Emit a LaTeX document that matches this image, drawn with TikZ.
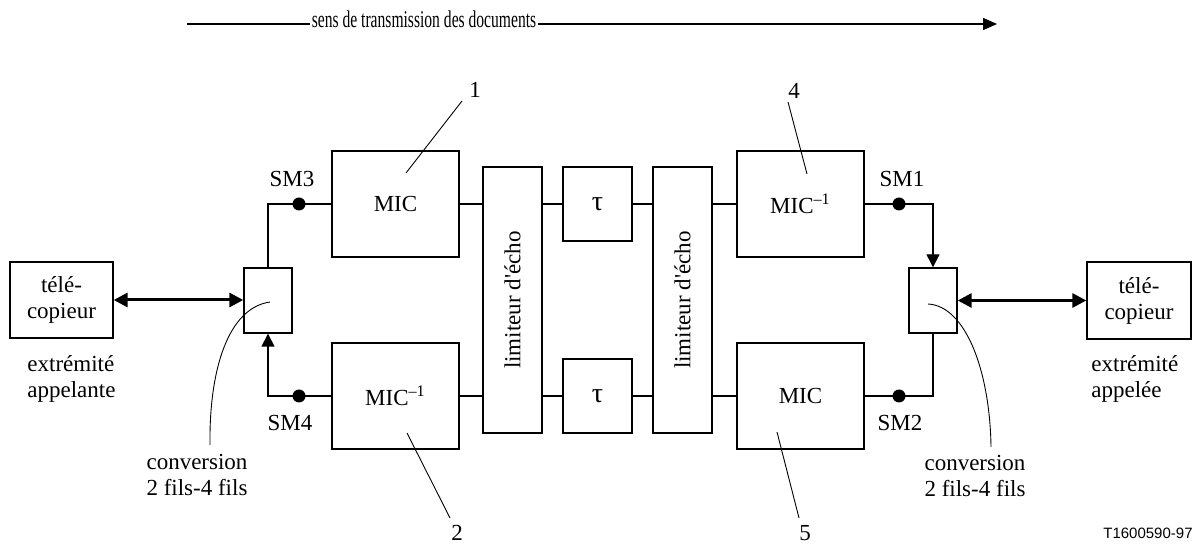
\documentclass[tikz,border=0pt]{standalone}
\usepackage{graphicx}
\usepackage{fontspec}
\setmainfont{Liberation Serif}
\newfontfamily\arialfont{Liberation Sans}
\usetikzlibrary{arrows.meta}
\begin{document}
\begin{tikzpicture}[x=0.5pt,y=-0.5pt,
  every node/.style={font=\fontsize{11.5pt}{13pt}\selectfont, inner sep=1pt},
  blk/.style={draw, line width=0.7pt, inner sep=0pt, align=center},
  wire/.style={line width=0.7pt},
  lead/.style={line width=0.45pt},
  dbl/.style={line width=1.5pt, {Triangle[length=7pt,width=7pt]}-{Triangle[length=7pt,width=7pt]}},
  sig/.style={wire, -{Triangle[length=6.5pt,width=6.5pt]}},
  dot/.style={circle, fill, inner sep=0pt, minimum size=6.5pt},
  txt/.style={align=center},
  taufont/.style={font=\fontsize{14pt}{16pt}\selectfont},
]
\useasboundingbox (0,0) rectangle (1198,544);

% title
\coordinate (ts) at (187,24);
\coordinate (te) at (997,24);
\node[anchor=base, font=\fontsize{12pt}{14pt}\selectfont, inner sep=0.5pt] (title) at (424,28) {\scalebox{0.65}[1]{sens de transmission des documents}};
\draw[line width=0.8pt] (ts) -- (title.west |- ts);
\draw[line width=0.8pt, -{Triangle[length=7pt,width=6pt]}] (title.east |- ts) -- (te);

% blocks
\node[blk, minimum width=51.5pt, minimum height=38pt] (faxL) at (61.5,300) {télé-\\copieur};
\node[blk, minimum width=24pt, minimum height=32.5pt] (convL) at (268,300.5) {};
\node[blk, minimum width=63.5pt, minimum height=53pt] (micT1) at (395.5,204) {MIC};
\node[blk, minimum width=63.5pt, minimum height=53pt] (micB1) at (395.5,396) {MIC\textsuperscript{–1}};
\node[blk, minimum width=29.5pt, minimum height=133pt] (lim1) at (512.5,300) {\rotatebox{90}{limiteur d\textquotesingle écho}};
\node[blk, taufont, minimum width=34.5pt, minimum height=37pt] (tauT) at (597.5,204) {τ};
\node[blk, taufont, minimum width=34.5pt, minimum height=37pt] (tauB) at (597.5,396) {τ};
\node[blk, minimum width=29.5pt, minimum height=133pt] (lim2) at (682.5,300) {\rotatebox{90}{limiteur d\textquotesingle écho}};
\node[blk, minimum width=63.5pt, minimum height=53pt] (micT2) at (800.5,204) {MIC\textsuperscript{–1}};
\node[blk, minimum width=63.5pt, minimum height=53pt] (micB2) at (800.5,396) {MIC};
\node[blk, minimum width=24pt, minimum height=32.5pt] (convR) at (933,300.5) {};
\node[blk, minimum width=52pt, minimum height=38.5pt] (faxR) at (1139,300.5) {télé-\\copieur};

% wires
\draw[wire] (convL.north) |- (micT1.west);
\draw[sig] (micB1.west) -| (convL.south);
\draw[wire] (micT1.east) -- (micT1.east -| lim1.west);
\draw[wire] (tauT.west -| lim1.east) -- (tauT.west);
\draw[wire] (tauT.east) -- (tauT.east -| lim2.west);
\draw[wire] (micT2.west -| lim2.east) -- (micT2.west);
\draw[wire] (micB1.east) -- (micB1.east -| lim1.west);
\draw[wire] (tauB.west -| lim1.east) -- (tauB.west);
\draw[wire] (tauB.east) -- (tauB.east -| lim2.west);
\draw[wire] (micB2.west -| lim2.east) -- (micB2.west);
\draw[sig] (micT2.east) -| (convR.north);
\draw[wire] (micB2.east) -| (convR.south);
\draw[dbl] (faxL.east) -- (faxL.east -| convL.west);
\draw[dbl] (convR.east) -- (convR.east -| faxR.west);

% measurement points
\node[dot] (d3) at (299,204) {};
\node[dot] (d4) at (299,396) {};
\node[dot] (d1) at (899,204) {};
\node[dot] (d2) at (899,396) {};
\node (sm3) at (292,179) {SM3};
\node (sm4) at (290,423) {SM4};
\node (sm1) at (902,179) {SM1};
\node (sm2) at (900,423) {SM2};

% numbered leaders
\node (n1) at (475,90) {1};
\node (n4) at (794,91) {4};
\node (n2) at (457,533) {2};
\node (n5) at (805,533) {5};
\coordinate (n1a) at (462,101); \coordinate (p1) at (406,173);
\coordinate (n4a) at (788,102); \coordinate (p4) at (807,174);
\coordinate (n2a) at (450,518); \coordinate (p2) at (407,433);
\coordinate (n5a) at (799,518); \coordinate (p5) at (777,432);
\draw[lead] (n1a) -- (p1);
\draw[lead] (n4a) -- (p4);
\draw[lead] (n2a) -- (p2);
\draw[lead] (n5a) -- (p5);

% conversion labels
\node[txt] (cvL) at (197,475) {conversion\\2 fils-4 fils};
\node[txt] (cvR) at (975,476) {conversion\\2 fils-4 fils};
\coordinate (cLa) at (270,302); \coordinate (cLb) at (210,445);
\coordinate (cRa) at (928,304); \coordinate (cRb) at (991,447);
\draw[lead] (cLa) .. controls (228,308) and (209,370) .. (cLb);
\draw[lead] (cRa) .. controls (966,306) and (990,372) .. (cRb);

% end labels
\node[align=left, anchor=west] (exL) at (25,378.5) {extrémité\\appelante};
\node[align=left, anchor=west] (exR) at (1089,378.5) {extrémité\\appelée};

\node[anchor=east, font=\arialfont\fontsize{7.5pt}{9pt}\selectfont] (ref) at (1195,533) {T1600590-97};
\end{tikzpicture}
\end{document}
